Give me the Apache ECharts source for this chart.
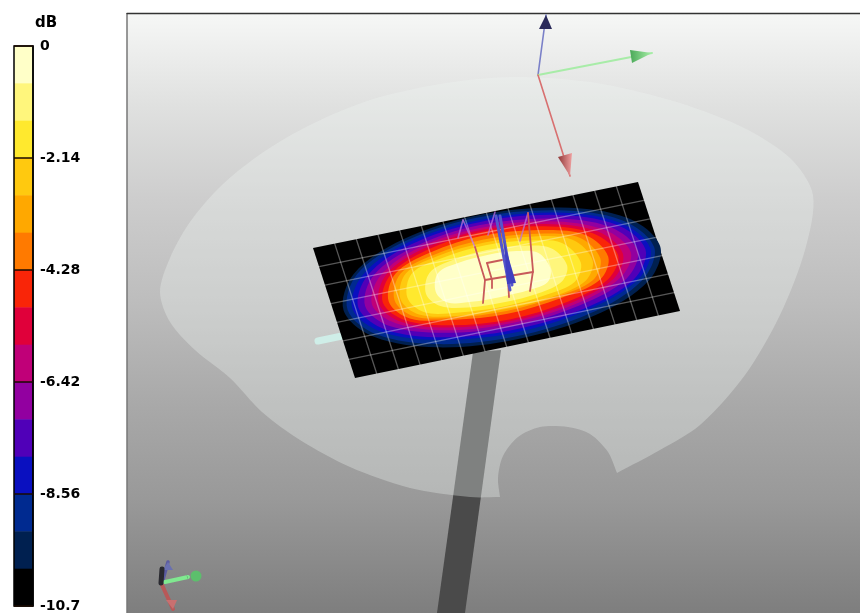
<!DOCTYPE html>
<html><head><meta charset="utf-8">
<style>html,body{margin:0;padding:0;background:#fff}#c{width:860px;height:613px}</style>
<script src="https://cdn.jsdelivr.net/npm/echarts@6/dist/echarts.min.js"></script>
</head><body><div id="c"></div>
<script>
// colour scale, top (0 dB) to bottom (-10.7 dB)
var scaleTicks = [0, -2.14, -4.28, -6.42, -8.56, -10.7];
var scaleTickLabels = ['0', '-2.14', '-4.28', '-6.42', '-8.56', '-10.7'];
var bandEdges = [0, -0.713, -1.427, -2.14, -2.853, -3.567, -4.28, -4.993, -5.707, -6.42, -7.133, -7.847, -8.56, -9.273, -9.987, -10.7];
var bandColors = ['#ffffc8', '#fff67c', '#ffe92e', '#ffc90f', '#ffa800', '#ff7a00', '#f92508', '#e0003a', '#c00078', '#9200a0', '#5000b8', '#0a10c0', '#002a90', '#002050', '#000000'];

// measured plate: corners in the picture
var plateA = [313, 248], plateB = [638, 182], plateC = [680, 311], plateD = [355, 378];
var plateColumns = 15, plateRows = 7;

// band outlines on the plate (along-plate, across-plate offsets from its centre), outermost first
var contour14 = [[167,0],[145,-34],[84,-58],[0,-67],[-78,-58],[-135,-34],[-156,0],[-135,32],[-78,55],[0,63],[84,55],[145,32]];
var contour13 = [[161,0],[139,-33],[80,-56],[0,-65],[-76,-56],[-132,-33],[-152,0],[-132,30],[-76,52],[0,60],[80,52],[139,30]];
var contour12 = [[157,0],[136,-31],[78,-54],[0,-62],[-74,-54],[-127,-31],[-147,0],[-127,28],[-74,48],[0,56],[78,48],[136,28]];
var contour11 = [[152,0],[132,-30],[76,-52],[0,-60],[-70,-52],[-122,-30],[-141,0],[-122,27],[-70,46],[0,53],[76,46],[132,27]];
var contour10 = [[144,0],[125,-29],[72,-49],[0,-57],[-67,-49],[-116,-29],[-134,0],[-116,25],[-67,42],[0,49],[72,42],[125,25]];
var contour9 = [[137,0],[119,-27],[68,-47],[0,-54],[-64,-47],[-110,-27],[-127,0],[-110,23],[-64,40],[0,46],[68,40],[119,23]];
var contour8 = [[129,0],[112,-27],[64,-45],[0,-52],[-60,-45],[-104,-27],[-120,0],[-104,23],[-60,38],[0,44],[64,38],[112,23]];
var contour7 = [[124,0],[107,-26],[62,-43],[0,-50],[-58,-43],[-100,-26],[-116,0],[-100,22],[-58,36],[0,42],[62,36],[107,22]];
var contour6 = [[114,0],[99,-26],[57,-40],[0,-46],[-55,-40],[-95,-26],[-110,0],[-95,21],[-55,31],[0,36],[57,31],[99,21]];
var contour5 = [[106,0],[92,-25],[53,-37],[0,-42],[-52,-37],[-90,-25],[-104,0],[-90,20],[-52,29],[0,33],[53,29],[92,20]];
var contour4 = [[98,0],[85,-24],[49,-35],[0,-39],[-49,-35],[-85,-24],[-98,0],[-85,19],[-49,28],[0,31],[49,28],[85,19]];
var contour3 = [[86,0],[74,-23],[43,-32],[0,-36],[-46,-32],[-79,-23],[-91,0],[-79,18],[-46,25],[0,28],[43,25],[74,18]];
var contour2 = [[72,0],[62,-20],[36,-28],[0,-31],[-36,-28],[-62,-20],[-72,0],[-62,15],[-36,22],[0,24],[36,22],[62,15]];
var contour1 = [[55,0],[48,-18],[28,-24],[0,-26],[-31,-24],[-54,-18],[-62,0],[-54,13],[-31,17],[0,18],[28,17],[48,13]];
var contours = [contour14, contour13, contour12, contour11, contour10, contour9, contour8, contour7, contour6, contour5, contour4, contour3, contour2, contour1];
var contourColors = bandColors.slice(0, 14).reverse();

// scene outlines
var panelRect = [127, 14, 860, 613];
var backgroundStops = [[0, '#f6f7f6'], [0.15, '#e0e1e0'], [0.31, '#cdcdcd'], [0.48, '#bdbdbd'], [0.64, '#aaaaaa'], [0.81, '#999999'], [1, '#7e7e7e']];
var fanOutline = [[160,292],[170,258],[190,222],[222,185],[262,153],[310,125],[370,100],[440,84],[510,77],[590,82],[670,100],[740,126],[790,158],[813,195],[805,250],[780,315],[745,375],[700,425],[660,450],[617,473],[617,473],[608,452],[590,434],[568,427],[540,427],[518,437],[503,456],[498,478],[500,497],[500,497],[470,497],[410,488],[350,467],[300,440],[262,412],[230,378],[195,350],[170,322]];
var strutOutline = [[473,352],[501,350],[465,613],[437,613]];
var stubLine = [[318,341],[342,336]];

// wire structure above the plate
var wireRed = [
  [[475,247],[485,280],[483,303]],
  [[528,213],[533,271],[530,291]],
  [[485,280],[533,272]],
  [[487,263],[502,260]],
  [[487,263],[492,280],[492,288]],
  [[508,280],[509,297]]
];
var wireViolet = [
  [[463,220],[458,238]], [[463,220],[475,247]],
  [[528,213],[520,241]], [[495,212],[488,235]]
];
var wireBlue = [[[496,216],[510,290]], [[500,216],[512,285]]];
var wireWedge = [[504,242],[516,283],[507,284]];

// axis triads: [origin, tip, cone base 1, cone base 2, line colour, cone colour near base, cone colour near tip, line width]
var triads = [
  [[538,75],[546,15],[539,29],[552,29],'#7a80c8','#2a2a5a','#2a2a5a',1.6],
  [[538,75],[652,53],[630,50],[632,63],'#a8eca8','#4aa858','#a8f0a8',2],
  [[538,75],[570,176],[558,157],[572,153],'#d87070','#903838','#f0a0a0',1.6],
  [[162,583],[168,562],[163,570],[173,570],'#5a5aa0','#6a70b0','#6a70b0',3.5],
  [[165,582],[188,577],[186,574],[188,580],'#80e890','#60c070','#60c070',4],
  [[162,585],[173,609],[166,600],[177,600],'#b85858','#c87070','#c87070',4]
];
var smallTriadCore = [[162,569],[161,583]];
var smallTriadTip = [196, 576];

function planeToPixel(p) {
  var cx = (plateA[0] + plateC[0]) / 2, cy = (plateA[1] + plateC[1]) / 2;
  var ux = plateB[0] - plateA[0], uy = plateB[1] - plateA[1], ul = Math.hypot(ux, uy);
  var vx = plateD[0] - plateA[0], vy = plateD[1] - plateA[1], vl = Math.hypot(vx, vy);
  return [cx + p[0] * ux / ul + p[1] * vx / vl, cy + p[0] * uy / ul + p[1] * vy / vl];
}
function mix(a, b, t) { return [a[0] + (b[0] - a[0]) * t, a[1] + (b[1] - a[1]) * t]; }

function poly(api, pts, style, smooth) {
  return { type: 'polygon', shape: { points: pts.map(function (p) { return api.coord(p); }), smooth: smooth || 0 }, style: style };
}
function line(api, pts, stroke, w) {
  return { type: 'polyline', shape: { points: pts.map(function (p) { return api.coord(p); }) }, style: { stroke: stroke, lineWidth: w, fill: null, lineCap: 'round', lineJoin: 'round' } };
}
function layer(render, z) {
  return { type: 'custom', xAxisIndex: 1, yAxisIndex: 1, coordinateSystem: 'cartesian2d', clip: false, silent: true, z: z, data: [[0, 0]], renderItem: function (p, api) { return { type: 'group', children: render(api) }; } };
}

var option = {
  animation: false,
  backgroundColor: '#ffffff',
  grid: [
    { left: 14, top: 46, width: 19, height: 562 },
    { left: 0, top: 0, width: 860, height: 613 }
  ],
  xAxis: [
    { gridIndex: 0, type: 'value', min: 0, max: 1, show: false },
    { gridIndex: 1, type: 'value', min: 0, max: 860, show: false }
  ],
  yAxis: [
    { gridIndex: 0, type: 'value', position: 'right', min: -10.7, max: 0, interval: 2.14, z: 10,
      name: 'dB', nameLocation: 'end', nameGap: 15,
      nameTextStyle: { color: '#000', fontFamily: 'DejaVu Sans', fontWeight: 'bold', fontSize: 15, align: 'left', padding: [0, 0, 0, 2] },
      axisLine: { show: true, onZero: false, lineStyle: { color: '#000', width: 1.5 } },
      axisTick: { show: true, inside: true, length: 19, lineStyle: { color: '#1a0a00', width: 1.5 } },
      splitLine: { show: false },
      axisLabel: { margin: 7, color: '#000', fontFamily: 'DejaVu Sans', fontWeight: 'bold', fontSize: 14, padding: [3, 0, 0, 0],
        formatter: function (v) { return scaleTickLabels[scaleTicks.reduce(function (b, t, i) { return Math.abs(t - v) < Math.abs(scaleTicks[b] - v) ? i : b; }, 0)]; } }
    },
    { gridIndex: 1, type: 'value', min: 0, max: 613, inverse: true, show: false }
  ],
  series: [
    { type: 'custom', xAxisIndex: 0, yAxisIndex: 0, clip: false, silent: true, z: 3, data: bandColors.map(function (c, i) { return [0, i]; }),
      renderItem: function (p, api) {
        var i = api.value(1), a = api.coord([0, bandEdges[i]]), b = api.coord([1, bandEdges[i + 1]]);
        return { type: 'rect', shape: { x: a[0], y: a[1], width: b[0] - a[0], height: b[1] - a[1] + 0.5 }, style: { fill: bandColors[i] } };
      } },
    { type: 'custom', xAxisIndex: 0, yAxisIndex: 0, clip: false, silent: true, z: 4, data: [[0, 0]],
      renderItem: function (p, api) {
        var a = api.coord([0, 0]), b = api.coord([1, -10.7]);
        return { type: 'rect', shape: { x: a[0], y: a[1], width: b[0] - a[0], height: b[1] - a[1] }, style: { fill: null, stroke: '#000', lineWidth: 1.5 } };
      } },
    layer(function (api) {
      var a = api.coord([panelRect[0], panelRect[1]]), b = api.coord([panelRect[2], panelRect[3]]);
      return [
        { type: 'rect', shape: { x: a[0], y: a[1], width: b[0] - a[0], height: b[1] - a[1] },
          style: { fill: { type: 'linear', x: 0, y: 0, x2: 0, y2: 1, colorStops: backgroundStops.map(function (s) { return { offset: s[0], color: s[1] }; }) } } },
        line(api, [[panelRect[0], panelRect[3]], [panelRect[0], panelRect[1]]], '#777', 1.5),
        line(api, [[panelRect[0], panelRect[1] - 0.5], [panelRect[2], panelRect[1] - 0.5]], '#333', 1.5)
      ];
    }, 5),
    layer(function (api) { return [poly(api, strutOutline, { fill: '#4a4a4a' })]; }, 6),
    layer(function (api) { return [poly(api, fanOutline, { fill: 'rgba(238,245,242,0.32)' }, 0.3)]; }, 7),
    layer(function (api) { return [line(api, stubLine, '#cfeee8', 7)]; }, 8),
    layer(function (api) {
      var out = [poly(api, [plateA, plateB, plateC, plateD], { fill: '#000000' })];
      contours.forEach(function (c, i) {
        out.push(poly(api, c.map(planeToPixel), { fill: contourColors[i] }, 0.34));
      });
      return out;
    }, 9),
    layer(function (api) {
      var out = [], i;
      for (i = 1; i < plateColumns; i++) {
        out.push(line(api, [mix(plateA, plateB, i / plateColumns), mix(plateD, plateC, i / plateColumns)], 'rgba(255,255,255,0.34)', 1.3));
      }
      for (i = 1; i < plateRows; i++) {
        out.push(line(api, [mix(plateA, plateD, i / plateRows), mix(plateB, plateC, i / plateRows)], 'rgba(255,255,255,0.34)', 1.3));
      }
      return out;
    }, 10),
    layer(function (api) {
      var out = [];
      wireViolet.forEach(function (w) { out.push(line(api, w, 'rgba(190,110,220,0.75)', 1.6)); });
      wireRed.forEach(function (w) { out.push(line(api, w, '#c85a5a', 1.8)); });
      wireBlue.forEach(function (w) { out.push(line(api, w, '#5555cc', 3)); });
      out.push(poly(api, wireWedge, { fill: '#3f3fc0' }));
      return out;
    }, 11),
    layer(function (api) {
      var out = [];
      triads.forEach(function (t) {
        out.push(line(api, [t[0], t[1]], t[4], t[7]));
        out.push(poly(api, [t[2], t[1], t[3]], { fill: { type: 'linear', x: 0, y: 0, x2: 1, y2: 0, colorStops: [{ offset: 0, color: t[5] }, { offset: 1, color: t[6] }] } }));
      });
      out.push(line(api, smallTriadCore, '#2a2a30', 5));
      var tip = api.coord(smallTriadTip);
      out.push({ type: 'circle', shape: { cx: tip[0], cy: tip[1], r: 5.5 }, style: { fill: '#5cbf6c' } });
      return out;
    }, 12)
  ]
};
var chart = echarts.init(document.getElementById('c'), null, { renderer: 'canvas' });
chart.setOption(option);
</script></body></html>
